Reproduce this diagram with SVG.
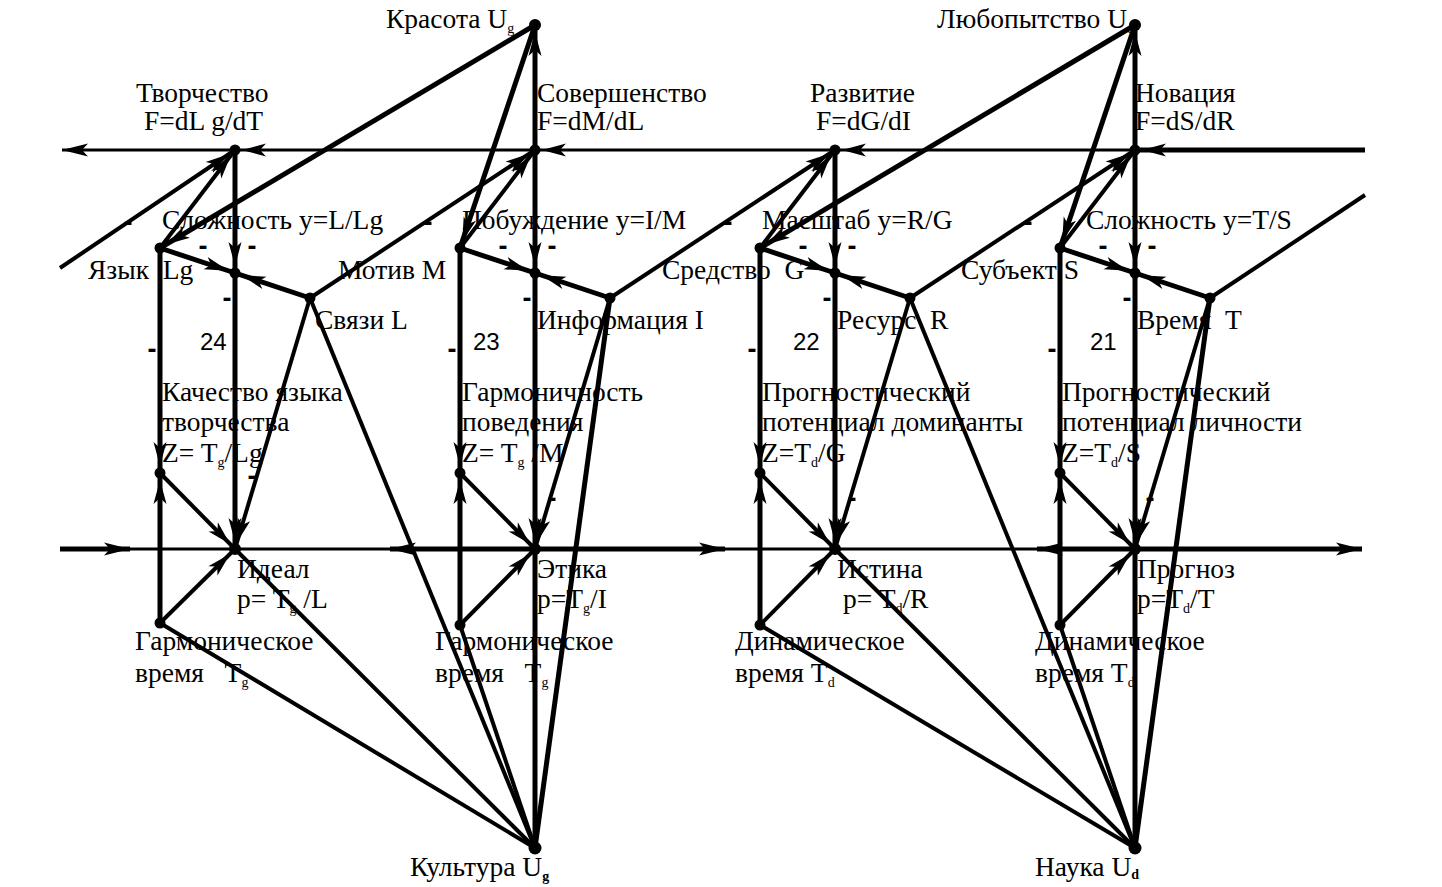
<svg xmlns="http://www.w3.org/2000/svg" width="1442" height="887" viewBox="0 0 1442 887">
<style>
text{white-space:pre;fill:#000}
.t{font-family:"Liberation Serif","Times New Roman",serif;font-size:27.5px}
.n{font-family:"Liberation Sans",Arial,sans-serif;font-size:24px}
.d{font-family:"Liberation Sans",Arial,sans-serif;font-size:27px;font-weight:bold;text-anchor:middle}
.s{font-size:14px}
.k{stroke:#000;stroke-width:5;fill:none}
.m{stroke-width:4}
.h{stroke-width:3}
.dot{fill:#000}
</style>
<defs>
<marker id="a" markerUnits="userSpaceOnUse" markerWidth="30" markerHeight="16" refX="7" refY="0" orient="auto" overflow="visible">
<path d="M0,0 L-24,-6.5 L-18,0 L-24,6.5 Z" fill="#000"/>
</marker>
<marker id="e" markerUnits="userSpaceOnUse" markerWidth="30" markerHeight="16" refX="0" refY="0" orient="auto" overflow="visible">
<path d="M0,0 L-26,-6.5 L-20,0 L-26,6.5 Z" fill="#000"/>
</marker>
</defs>
<rect width="1442" height="887" fill="#fff"/>
<g id="connectors">
<path class="k h" d="M235,150 L62,150" marker-end="url(#e)"/>
<path class="k h" d="M535,150 L235,150" marker-end="url(#a)"/>
<path class="k h" d="M835,150 L535,150" marker-end="url(#a)"/>
<path class="k h" d="M1135,150 L835,150" marker-end="url(#a)"/>
<path class="k" d="M1365,150 L1135,150" marker-end="url(#a)"/>
<path class="k" d="M60,549 L130,549" marker-end="url(#e)"/>
<path class="k h" d="M130,549 L390,549"/>
<path class="k" d="M535,549 L390,549" marker-end="url(#e)"/>
<path class="k" d="M535,549 L725,549" marker-end="url(#e)"/>
<path class="k h" d="M725,549 L1037,549"/>
<path class="k" d="M1135,549 L1037,549" marker-end="url(#e)"/>
<path class="k" d="M1135,549 L1362,549" marker-end="url(#e)"/>
<path class="k" d="M535,150 L535,25" marker-end="url(#a)"/>
<path class="k" d="M1135,150 L1135,25" marker-end="url(#a)"/>
<path class="k" d="M535,549 L535,848"/>
<path class="k" d="M1135,549 L1135,848"/>
<path class="k" d="M235,150 L235,273" marker-end="url(#a)"/>
<path class="k" d="M235,273 L235,549" marker-end="url(#a)"/>
<path class="k" d="M535,150 L535,273" marker-end="url(#a)"/>
<path class="k" d="M535,273 L535,549" marker-end="url(#a)"/>
<path class="k" d="M835,150 L835,273" marker-end="url(#a)"/>
<path class="k" d="M835,273 L835,549" marker-end="url(#a)"/>
<path class="k" d="M1135,150 L1135,273" marker-end="url(#a)"/>
<path class="k" d="M1135,273 L1135,549" marker-end="url(#a)"/>
<path class="k" d="M160,248 L235,273" marker-end="url(#a)"/>
<path class="k" d="M310,298 L235,273" marker-end="url(#a)"/>
<path class="k" d="M460,248 L535,273" marker-end="url(#a)"/>
<path class="k" d="M610,298 L535,273" marker-end="url(#a)"/>
<path class="k" d="M760,248 L835,273" marker-end="url(#a)"/>
<path class="k" d="M910,298 L835,273" marker-end="url(#a)"/>
<path class="k" d="M1060,248 L1135,273" marker-end="url(#a)"/>
<path class="k" d="M1210,298 L1135,273" marker-end="url(#a)"/>
<path class="k" d="M160,248 L160,473" marker-end="url(#a)"/>
<path class="k" d="M160,623 L160,473" marker-end="url(#a)"/>
<path class="k" d="M460,248 L460,473" marker-end="url(#a)"/>
<path class="k" d="M460,625 L460,473" marker-end="url(#a)"/>
<path class="k" d="M760,248 L760,473" marker-end="url(#a)"/>
<path class="k" d="M760,625 L760,473" marker-end="url(#a)"/>
<path class="k" d="M1060,248 L1060,473" marker-end="url(#a)"/>
<path class="k" d="M1060,625 L1060,473" marker-end="url(#a)"/>
<path class="k m" d="M160,473 L235,549" marker-end="url(#a)"/>
<path class="k m" d="M160,623 L235,549" marker-end="url(#a)"/>
<path class="k m" d="M310,298 L235,549" marker-end="url(#a)"/>
<path class="k m" d="M460,473 L535,549" marker-end="url(#a)"/>
<path class="k m" d="M460,625 L535,549" marker-end="url(#a)"/>
<path class="k m" d="M610,298 L535,549" marker-end="url(#a)"/>
<path class="k m" d="M760,473 L835,549" marker-end="url(#a)"/>
<path class="k m" d="M760,625 L835,549" marker-end="url(#a)"/>
<path class="k m" d="M910,298 L835,549" marker-end="url(#a)"/>
<path class="k m" d="M1060,473 L1135,549" marker-end="url(#a)"/>
<path class="k m" d="M1060,625 L1135,549" marker-end="url(#a)"/>
<path class="k m" d="M1210,298 L1135,549" marker-end="url(#a)"/>
<path class="k m" d="M160,248 L235,150" marker-end="url(#a)"/>
<path class="k m" d="M460,248 L535,150" marker-end="url(#a)"/>
<path class="k m" d="M760,248 L835,150" marker-end="url(#a)"/>
<path class="k m" d="M1060,248 L1135,150" marker-end="url(#a)"/>
<path class="k m" d="M60,268 L235,150" marker-end="url(#a)"/>
<path class="k m" d="M310,298 L535,150" marker-end="url(#a)"/>
<path class="k m" d="M610,298 L835,150" marker-end="url(#a)"/>
<path class="k m" d="M910,298 L1135,150" marker-end="url(#a)"/>
<path class="k m" d="M1210,298 L1365,195"/>
<path class="k" d="M535,25 L160,248" marker-end="url(#a)"/>
<path class="k" d="M535,25 L460,248" marker-end="url(#a)"/>
<path class="k" d="M1135,25 L760,248" marker-end="url(#a)"/>
<path class="k" d="M1135,25 L1060,248" marker-end="url(#a)"/>
<path class="k m" d="M160,623 L535,848"/>
<path class="k m" d="M235,549 L535,848"/>
<path class="k m" d="M310,298 L535,848"/>
<path class="k m" d="M460,625 L535,848"/>
<path class="k" d="M610,298 L535,848"/>
<path class="k m" d="M760,625 L1135,848"/>
<path class="k m" d="M835,549 L1135,848"/>
<path class="k m" d="M910,298 L1135,848"/>
<path class="k m" d="M1060,625 L1135,848"/>
<path class="k" d="M1210,298 L1135,848"/>
</g>
<g id="dashes">
<text class="d" x="128" y="231">-</text>
<text class="d" x="428" y="231">-</text>
<text class="d" x="728" y="231">-</text>
<text class="d" x="1028" y="231">-</text>
<text class="d" x="203" y="255">-</text>
<text class="d" x="252" y="255">-</text>
<text class="d" x="503" y="255">-</text>
<text class="d" x="552" y="255">-</text>
<text class="d" x="803" y="255">-</text>
<text class="d" x="852" y="255">-</text>
<text class="d" x="1103" y="255">-</text>
<text class="d" x="1152" y="255">-</text>
<text class="d" x="227" y="307">-</text>
<text class="d" x="527" y="307">-</text>
<text class="d" x="827" y="307">-</text>
<text class="d" x="1127" y="307">-</text>
<text class="d" x="152" y="358">-</text>
<text class="d" x="452" y="358">-</text>
<text class="d" x="752" y="358">-</text>
<text class="d" x="1052" y="358">-</text>
<text class="d" x="252" y="485">-</text>
<text class="d" x="552" y="507">-</text>
<text class="d" x="852" y="507">-</text>
<text class="d" x="1150" y="507">-</text>
</g>
<g id="node-krasota"><circle class="dot" cx="535" cy="25" r="6"/><text class="t" x="386" y="28">Красота U<tspan class="s" dy="5">g</tspan></text></g>
<g id="node-lyubopytstvo"><circle class="dot" cx="1135" cy="25" r="6"/><text class="t" x="937" y="28">Любопытство U<tspan class="s" dy="5">d</tspan></text></g>
<g id="node-kultura"><circle class="dot" cx="535" cy="848" r="6.5"/><text class="t" x="410" y="876">Культура U<tspan class="s" dy="5" font-weight="bold">g</tspan></text></g>
<g id="node-nauka"><circle class="dot" cx="1135" cy="848" r="6.5"/><text class="t" x="1035" y="876">Наука U<tspan class="s" dy="3" font-weight="bold">d</tspan></text></g>
<g id="node-tvorchestvo"><circle class="dot" cx="235" cy="150" r="5.5"/><text class="t" x="136" y="102">Творчество</text><text class="t" x="144" y="130">F=dL g/dT</text></g>
<g id="node-slozhnost1"><circle class="dot" cx="235" cy="273" r="5.5"/><text class="t" x="162" y="229">Сложность y=L/Lg</text></g>
<g id="node-yazyk"><circle class="dot" cx="160" cy="248" r="5.5"/><text class="t" x="88" y="279">Язык  Lg</text></g>
<g id="node-svyazi"><circle class="dot" cx="310" cy="298" r="5.5"/><text class="t" x="315" y="329">Связи L</text></g>
<g id="num24"><text class="n" x="200" y="350">24</text></g>
<g id="node-kachestvo"><circle class="dot" cx="160" cy="473" r="5.5"/><text class="t" x="162" y="401">Качество языка</text><text class="t" x="162" y="431">творчества</text><text class="t" x="162" y="462">Z= T<tspan class="s" dy="5">g</tspan><tspan dy="-5">/Lg</tspan></text></g>
<g id="node-ideal"><circle class="dot" cx="235" cy="549" r="6"/><text class="t" x="237" y="578">Идеал</text><text class="t" x="237" y="608">p= T<tspan class="s" dy="5">g</tspan><tspan dy="-5"> /L</tspan></text></g>
<g id="node-garm1"><circle class="dot" cx="160" cy="623" r="5.5"/><text class="t" x="135" y="650">Гармоническое</text><text class="t" x="135" y="682">время   T<tspan class="s" dy="5">g</tspan></text></g>
<g id="node-sovershenstvo"><circle class="dot" cx="535" cy="150" r="5.5"/><text class="t" x="537" y="102">Совершенство</text><text class="t" x="537" y="130">F=dM/dL</text></g>
<g id="node-pobuzhdenie"><circle class="dot" cx="535" cy="273" r="5.5"/><text class="t" x="462" y="229">Побуждение y=I/M</text></g>
<g id="node-motiv"><circle class="dot" cx="460" cy="248" r="5.5"/><text class="t" x="338" y="279">Мотив M</text></g>
<g id="node-informaciya"><circle class="dot" cx="610" cy="298" r="5.5"/><text class="t" x="537" y="329">Информация I</text></g>
<g id="num23"><text class="n" x="473" y="350">23</text></g>
<g id="node-garmonichnost"><circle class="dot" cx="460" cy="473" r="5.5"/><text class="t" x="462" y="401">Гармоничность</text><text class="t" x="462" y="431">поведения</text><text class="t" x="462" y="462">Z= T<tspan class="s" dy="5">g</tspan><tspan dy="-5"> /M</tspan></text></g>
<g id="node-etika"><circle class="dot" cx="535" cy="549" r="6"/><text class="t" x="537" y="578">Этика</text><text class="t" x="537" y="608">p=T<tspan class="s" dy="5">g</tspan><tspan dy="-5">/I</tspan></text></g>
<g id="node-garm2"><circle class="dot" cx="460" cy="625" r="5.5"/><text class="t" x="435" y="650">Гармоническое</text><text class="t" x="435" y="682">время   T<tspan class="s" dy="5">g</tspan></text></g>
<g id="node-razvitie"><circle class="dot" cx="835" cy="150" r="5.5"/><text class="t" x="810" y="102">Развитие</text><text class="t" x="816" y="130">F=dG/dI</text></g>
<g id="node-masshtab"><circle class="dot" cx="835" cy="273" r="5.5"/><text class="t" x="762" y="229">Масштаб y=R/G</text></g>
<g id="node-sredstvo"><circle class="dot" cx="760" cy="248" r="5.5"/><text class="t" x="662" y="279">Средство  G</text></g>
<g id="node-resurs"><circle class="dot" cx="910" cy="298" r="5.5"/><text class="t" x="837" y="329">Ресурс  R</text></g>
<g id="num22"><text class="n" x="793" y="350">22</text></g>
<g id="node-prognost1"><circle class="dot" cx="760" cy="473" r="5.5"/><text class="t" x="762" y="401">Прогностический</text><text class="t" x="762" y="431">потенциал доминанты</text><text class="t" x="762" y="462">Z=T<tspan class="s" dy="5">d</tspan><tspan dy="-5">/G</tspan></text></g>
<g id="node-istina"><circle class="dot" cx="835" cy="549" r="6"/><text class="t" x="837" y="578">Истина</text><text class="t" x="843" y="608">p= T<tspan class="s" dy="5">d</tspan><tspan dy="-5">/R</tspan></text></g>
<g id="node-dinam1"><circle class="dot" cx="760" cy="625" r="5.5"/><text class="t" x="735" y="650">Динамическое</text><text class="t" x="735" y="682">время T<tspan class="s" dy="5">d</tspan></text></g>
<g id="node-novaciya"><circle class="dot" cx="1135" cy="150" r="5.5"/><text class="t" x="1135" y="102">Новация</text><text class="t" x="1135" y="130">F=dS/dR</text></g>
<g id="node-slozhnost2"><circle class="dot" cx="1135" cy="273" r="5.5"/><text class="t" x="1086" y="229">Сложность y=T/S</text></g>
<g id="node-subekt"><circle class="dot" cx="1060" cy="248" r="5.5"/><text class="t" x="961" y="279">Субъект S</text></g>
<g id="node-vremya"><circle class="dot" cx="1210" cy="298" r="5.5"/><text class="t" x="1137" y="329">Время  T</text></g>
<g id="num21"><text class="n" x="1090" y="350">21</text></g>
<g id="node-prognost2"><circle class="dot" cx="1060" cy="473" r="5.5"/><text class="t" x="1062" y="401">Прогностический</text><text class="t" x="1062" y="431">потенциал личности</text><text class="t" x="1062" y="462">Z=T<tspan class="s" dy="5">d</tspan><tspan dy="-5">/S</tspan></text></g>
<g id="node-prognoz"><circle class="dot" cx="1135" cy="549" r="6"/><text class="t" x="1137" y="578">Прогноз</text><text class="t" x="1137" y="608">p=T<tspan class="s" dy="5">d</tspan><tspan dy="-5">/T</tspan></text></g>
<g id="node-dinam2"><circle class="dot" cx="1060" cy="625" r="5.5"/><text class="t" x="1035" y="650">Динамическое</text><text class="t" x="1035" y="682">время T<tspan class="s" dy="5">d</tspan></text></g>
</svg>
